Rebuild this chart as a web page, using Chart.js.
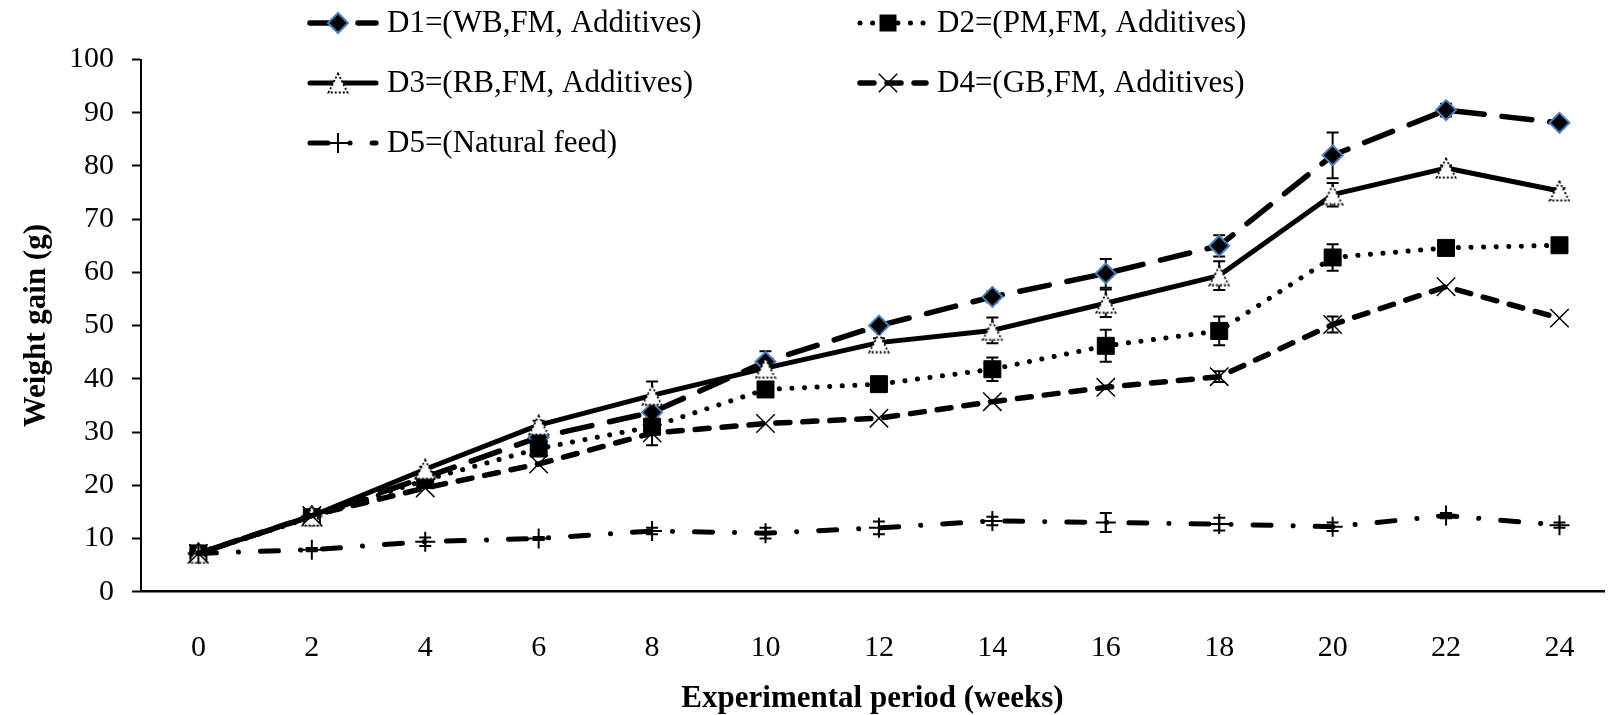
<!DOCTYPE html>
<html>
<head>
<meta charset="utf-8">
<script src="https://cdn.jsdelivr.net/npm/chart.js@4.4.1/dist/chart.umd.min.js"></script>
<style>
  html, body { margin: 0; padding: 0; background: #fff; overflow: hidden; }
  #wrap { width: 1619px; height: 715px; }
</style>
</head>
<body>
<div id="wrap"><canvas id="chart" width="1619" height="715"></canvas></div>
<script>
// weeks on the x axis
const weeks = [0, 2, 4, 6, 8, 10, 12, 14, 16, 18, 20, 22, 24];

const labels = [
  'D1=(WB,FM, Additives)',
  'D2=(PM,FM, Additives)',
  'D3=(RB,FM, Additives)',
  'D4=(GB,FM, Additives)',
  'D5=(Natural feed)'
];

// weight gain (g)
const d1 = [7.2, 14.2, 21.5, 29.0, 33.7, 43.2, 50.0, 55.4, 59.8, 65.0, 82.0, 90.5, 88.1];
const d2 = [7.2, 14.0, 21.0, 26.9, 31.0, 38.0, 39.0, 41.8, 46.2, 49.0, 62.8, 64.6, 65.1];
const d3 = [7.2, 14.2, 23.0, 31.3, 36.9, 42.0, 46.8, 49.1, 54.2, 59.4, 74.6, 79.6, 75.3];
const d4 = [7.2, 14.3, 19.5, 24.0, 29.8, 31.6, 32.6, 35.7, 38.4, 40.4, 50.2, 57.3, 51.4];
const d5 = [7.2, 7.9, 9.4, 10.0, 11.4, 11.0, 12.0, 13.3, 13.0, 12.7, 12.2, 14.3, 12.5];

// +/- error (g)
const d1Err = [0, 0, 0, 0.5, 1.5, 2.0, 0.5, 1.0, 2.7, 2.0, 4.3, 1.2, 0];
const d2Err = [0, 0, 0, 0.5, 0.8, 0.5, 0.5, 2.2, 3.0, 2.7, 2.5, 0, 0];
const d3Err = [0, 0.5, 0.5, 0.8, 2.6, 1.0, 0.8, 2.4, 2.6, 2.7, 2.2, 0.5, 0.5];
const d4Err = [0, 0, 0, 0, 2.3, 0, 0, 0, 0, 1.0, 1.5, 0, 0];
const d5Err = [0, 0.3, 0.8, 0.3, 0.6, 1.0, 1.2, 0.8, 1.8, 1.2, 0.8, 0.5, 0.5];

const yTicks = [0, 10, 20, 30, 40, 50, 60, 70, 80, 90, 100];

const SERIF = "'Liberation Serif', 'Times New Roman', serif";

// white triangle with a dotted outline (like the Excel marker)
function dottedTriangle(size) {
  const c = document.createElement('canvas');
  c.width = size;
  c.height = size;
  const g = c.getContext('2d');
  g.beginPath();
  g.moveTo(size / 2, 1.5);
  g.lineTo(size - 1.5, size - 1.5);
  g.lineTo(1.5, size - 1.5);
  g.closePath();
  g.fillStyle = '#fff';
  g.fill();
  g.setLineDash([2, 2]);
  g.lineWidth = 1.8;
  g.strokeStyle = '#000';
  g.stroke();
  return c;
}
const triImg = dottedTriangle(22);

const toPoints = (vals) => weeks.map((w, i) => ({ x: w, y: vals[i] }));

const datasets = [
  {
    label: labels[0], data: toPoints(d1), errors: d1Err,
    borderColor: '#000', borderWidth: 5.5, borderDash: [30, 18], borderCapStyle: 'round',
    pointStyle: 'rectRot', pointRadius: 10, pointBackgroundColor: '#000',
    pointBorderColor: '#4a7ebb', pointBorderWidth: 2, order: 5
  },
  {
    label: labels[1], data: toPoints(d2), errors: d2Err,
    borderColor: '#000', borderWidth: 5, borderDash: [0.1, 12.5], borderCapStyle: 'round',
    pointStyle: 'rect', pointRadius: 12, pointBackgroundColor: '#000',
    pointBorderColor: '#000', pointBorderWidth: 1, order: 4
  },
  {
    label: labels[2], data: toPoints(d3), errors: d3Err,
    borderColor: '#000', borderWidth: 5, borderDash: [], borderCapStyle: 'round',
    pointStyle: triImg, pointRadius: 10, order: 3
  },
  {
    label: labels[3], data: toPoints(d4), errors: d4Err,
    borderColor: '#000', borderWidth: 5.5, borderDash: [14, 13], borderCapStyle: 'round',
    pointStyle: 'crossRot', pointRadius: 13, pointBackgroundColor: '#000',
    pointBorderColor: '#000', pointBorderWidth: 1.5, order: 2
  },
  {
    label: labels[4], data: toPoints(d5), errors: d5Err,
    borderColor: '#000', borderWidth: 5, borderDash: [18, 22, 0.1, 22], borderCapStyle: 'round',
    pointStyle: 'cross', pointRadius: 10, pointBackgroundColor: '#000',
    pointBorderColor: '#000', pointBorderWidth: 2, order: 1
  }
];
datasets.forEach((ds) => {
  ds.fill = false;
  ds.tension = 0;
  ds.borderJoinStyle = 'round';
});

// error bars, drawn under the markers
const errorBars = {
  id: 'errorBars',
  beforeDatasetsDraw(chart) {
    const { ctx, scales: { x, y } } = chart;
    ctx.save();
    ctx.strokeStyle = '#000';
    ctx.lineWidth = 2;
    chart.data.datasets.forEach((ds) => {
      ds.errors.forEach((e, i) => {
        if (!e) return;
        const px = x.getPixelForValue(ds.data[i].x);
        const hi = y.getPixelForValue(ds.data[i].y + e);
        const lo = y.getPixelForValue(ds.data[i].y - e);
        ctx.beginPath();
        ctx.moveTo(px, hi); ctx.lineTo(px, lo);
        ctx.moveTo(px - 6, hi); ctx.lineTo(px + 6, hi);
        ctx.moveTo(px - 6, lo); ctx.lineTo(px + 6, lo);
        ctx.stroke();
      });
    });
    ctx.restore();
  }
};

function drawMarker(ctx, ds, cx, cy) {
  const st = ds.pointStyle;
  const r = ds.pointRadius;
  ctx.save();
  ctx.setLineDash([]);
  if (typeof st !== 'string') {
    ctx.drawImage(st, cx - st.width / 2, cy - st.height / 2);
  } else if (st === 'rectRot') {
    ctx.beginPath();
    ctx.moveTo(cx - r, cy); ctx.lineTo(cx, cy - r); ctx.lineTo(cx + r, cy); ctx.lineTo(cx, cy + r);
    ctx.closePath();
    ctx.fillStyle = ds.pointBackgroundColor; ctx.fill();
    ctx.strokeStyle = ds.pointBorderColor; ctx.lineWidth = ds.pointBorderWidth; ctx.stroke();
  } else if (st === 'rect') {
    const s = r * Math.SQRT1_2;
    ctx.fillStyle = ds.pointBackgroundColor;
    ctx.fillRect(cx - s, cy - s, 2 * s, 2 * s);
  } else if (st === 'crossRot') {
    const s = r * Math.SQRT1_2;
    ctx.beginPath();
    ctx.moveTo(cx - s, cy - s); ctx.lineTo(cx + s, cy + s);
    ctx.moveTo(cx - s, cy + s); ctx.lineTo(cx + s, cy - s);
    ctx.strokeStyle = '#000'; ctx.lineWidth = ds.pointBorderWidth; ctx.stroke();
  } else if (st === 'cross') {
    ctx.beginPath();
    ctx.moveTo(cx - r, cy); ctx.lineTo(cx + r, cy);
    ctx.moveTo(cx, cy - r); ctx.lineTo(cx, cy + r);
    ctx.strokeStyle = '#000'; ctx.lineWidth = ds.pointBorderWidth; ctx.stroke();
  }
  ctx.restore();
}

// legend laid out like the original (two columns, three rows)
const legendSlots = [
  { x: 310, y: 23 }, { x: 860, y: 23 },
  { x: 310, y: 83 }, { x: 860, y: 83 },
  { x: 310, y: 143 }
];
const customLegend = {
  id: 'customLegend',
  afterDraw(chart) {
    const { ctx } = chart;
    chart.data.datasets.forEach((ds, i) => {
      const slot = legendSlots[i];
      ctx.save();
      ctx.strokeStyle = '#000';
      ctx.lineWidth = ds.borderWidth;
      ctx.lineCap = 'round';
      ctx.setLineDash(ds.borderDash);
      ctx.beginPath();
      ctx.moveTo(slot.x, slot.y);
      ctx.lineTo(slot.x + 66, slot.y);
      ctx.stroke();
      ctx.restore();
      drawMarker(ctx, ds, slot.x + 28, slot.y);
      ctx.save();
      ctx.fillStyle = '#000';
      ctx.font = '31px ' + SERIF;
      ctx.textBaseline = 'middle';
      ctx.fillText(ds.label, slot.x + 77, slot.y + 1);
      ctx.restore();
    });
  }
};

const ctx = document.getElementById('chart').getContext('2d');
const chart = new Chart(ctx, {
  type: 'line',
  data: { datasets },
  options: {
    responsive: false,
    animation: false,
    layout: { padding: { top: 59.5, right: 0, bottom: 0, left: 0 } },
    plugins: {
      legend: { display: false },
      tooltip: { enabled: false }
    },
    scales: {
      x: {
        type: 'linear',
        min: -1.012,
        max: 24.785,
        afterBuildTicks: (scale) => {
          scale.ticks = weeks.map((w) => ({ value: w }));
        },
        afterFit: (scale) => { scale.height = 123.3; },
        grid: { display: false, drawTicks: false },
        border: { display: true, color: '#000', width: 2.5 },
        ticks: { color: '#000', font: { family: SERIF, size: 30 }, padding: 38, maxRotation: 0 },
        title: {
          display: true,
          text: 'Experimental period (weeks)',
          color: '#000',
          font: { family: SERIF, size: 31, weight: 'bold' },
          padding: { top: 0, bottom: -3 }
        }
      },
      y: {
        min: 0,
        max: 100,
        afterBuildTicks: (scale) => {
          scale.ticks = yTicks.map((v) => ({ value: v }));
        },
        afterFit: (scale) => { scale.width = 141; },
        grid: { drawOnChartArea: false, drawTicks: true, tickLength: 9, tickColor: '#000', tickWidth: 2 },
        border: { display: true, color: '#000', width: 2 },
        ticks: { color: '#000', font: { family: SERIF, size: 30 }, padding: 18 },
        title: {
          display: true,
          text: 'Weight gain (g)',
          color: '#000',
          font: { family: SERIF, size: 31, weight: 'bold' },
          padding: { top: 18, bottom: 0 }
        }
      }
    }
  },
  plugins: [errorBars, customLegend]
});
</script>
</body>
</html>
